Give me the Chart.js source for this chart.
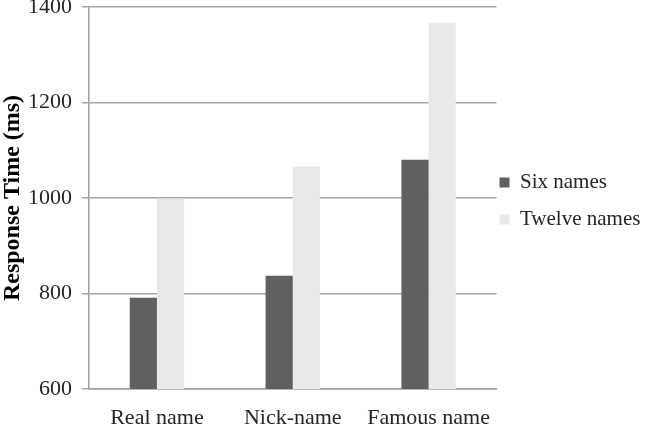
<!DOCTYPE html>
<html>
<head>
<meta charset="utf-8">
<script src="https://cdn.jsdelivr.net/npm/chart.js@4"></script>
<style>
  html, body { margin: 0; padding: 0; background: #fff; overflow: hidden; }
  #wrap { width: 645px; height: 426px; }
</style>
</head>
<body>
<div id="wrap"><canvas id="chart"></canvas></div>
<script>
// categories and series
const categories = ['Real name', 'Nick-name', 'Famous name'];
const sixNames = [791, 837, 1080];
const twelveNames = [999, 1066, 1367];
const yTicks = [600, 800, 1000, 1200, 1400];

const serif = '"Liberation Serif", "Times New Roman", serif';

// nudge the legend a bit left/up after layout, like the original
const legendNudge = {
    id: 'legendNudge',
    afterLayout(chart) {
        const lg = chart.legend;
        if (!lg) return;
        lg.left -= 13; lg.right -= 13;
        lg.top -= 12; lg.bottom -= 12;
    }
};

new Chart(document.getElementById('chart'), {
    type: 'bar',
    data: {
        labels: categories,
        datasets: [{
            label: 'Six names',
            data: sixNames,
            backgroundColor: '#606060',
            categoryPercentage: 0.4,
            barPercentage: 1.0
        }, {
            label: 'Twelve names',
            data: twelveNames,
            backgroundColor: '#e9e9e9',
            categoryPercentage: 0.4,
            barPercentage: 1.0
        }]
    },
    options: {
        responsive: true,
        maintainAspectRatio: false,
        animation: false,
        layout: { padding: { top: 0, right: -17, bottom: 0, left: 0 } },
        plugins: {
            tooltip: { enabled: false },
            legend: {
                position: 'right',
                labels: {
                    font: { family: serif, size: 21 },
                    color: '#262626',
                    boxWidth: 10,
                    boxHeight: 10,
                    padding: 16
                }
            }
        },
        scales: {
            x: {
                afterFit: axis => { axis.height = 37; },
                grid: { display: false, drawTicks: false },
                border: { color: '#a0a0a0', width: 1.5 },
                ticks: {
                    font: { family: serif, size: 22 },
                    color: '#262626',
                    padding: 16,
                    maxRotation: 0
                }
            },
            y: {
                min: 600,
                max: 1400,
                afterFit: axis => {
                    axis.width = 89;
                    axis.paddingTop = 7;
                    axis.paddingBottom = 0;
                },
                afterBuildTicks: axis => {
                    axis.ticks = yTicks.map(v => ({ value: v }));
                },
                grid: { color: '#a6a6a6', lineWidth: 1.5, tickLength: 7 },
                border: { color: '#a0a0a0', width: 1.5 },
                ticks: {
                    font: { family: serif, size: 22 },
                    color: '#262626',
                    padding: 10,
                    callback: v => String(v)
                },
                title: {
                    display: true,
                    text: 'Response Time (ms)',
                    font: { family: serif, size: 24, weight: 'bold', lineHeight: 1 },
                    color: '#000',
                    padding: { top: 1, bottom: 0 }
                }
            }
        }
    },
    plugins: [legendNudge]
});
</script>
</body>
</html>
